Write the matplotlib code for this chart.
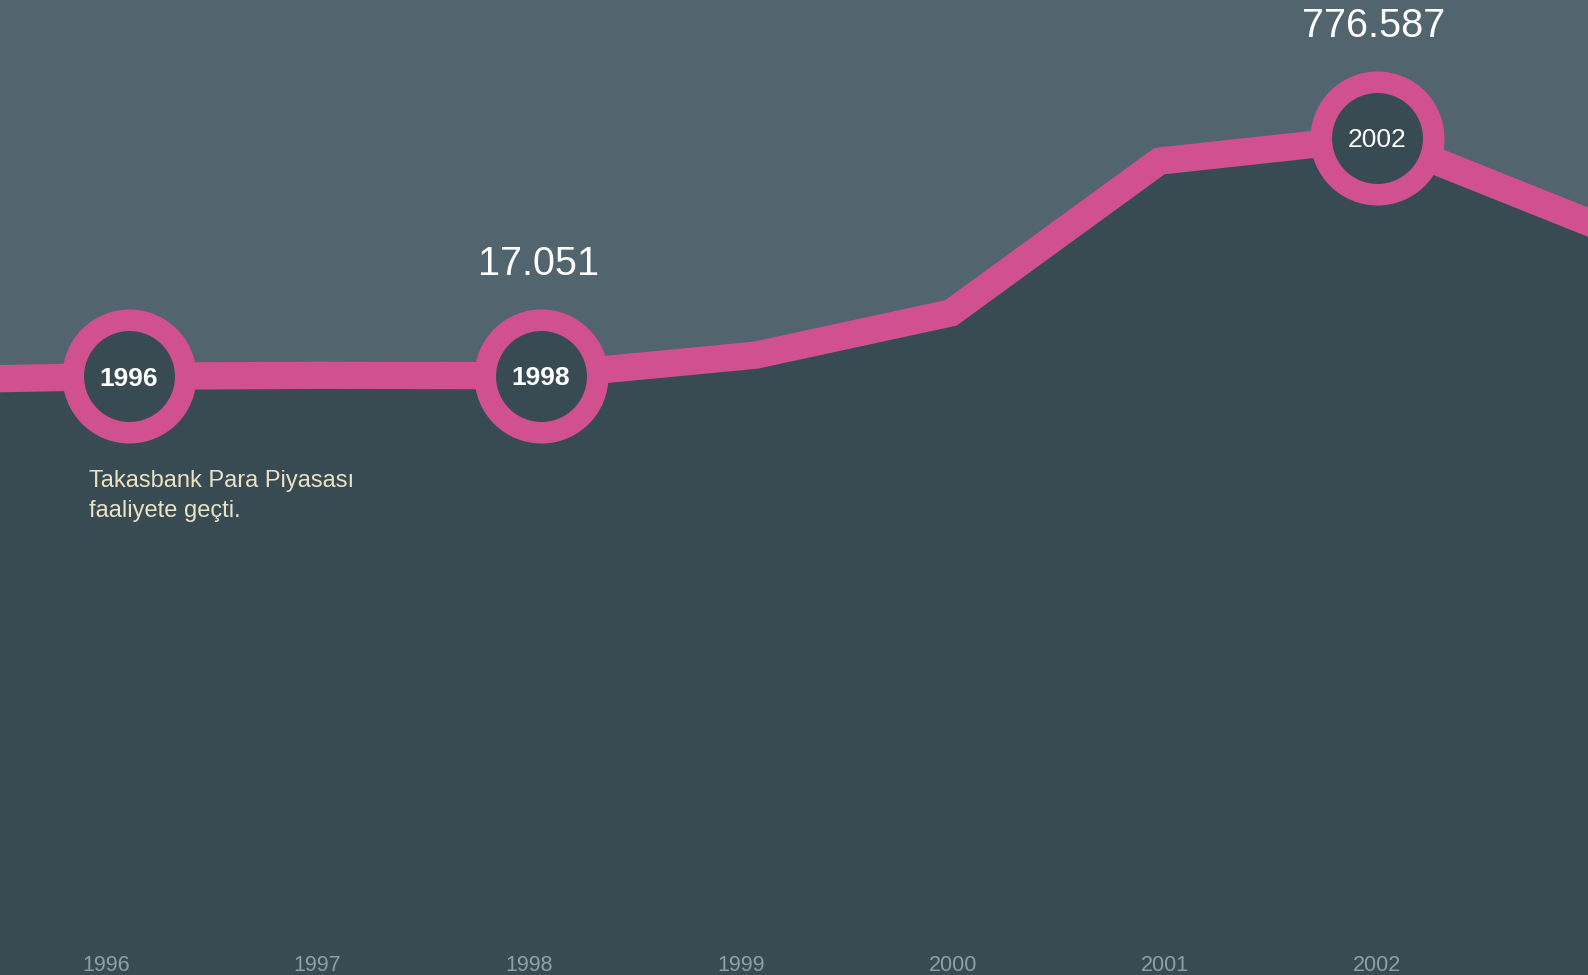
import matplotlib
matplotlib.use("Agg")
import matplotlib.pyplot as plt

# ---- data ----
# decimal-year positions of the data points
dates = [1995.0, 1996.11, 1997.0, 1998.055, 1999.07, 1999.99, 2000.975, 2002.0, 2003.0]
volume = [1.1, 15.4, 18.3, 17.051, 82.7, 217.3, 701.4, 776.587, 506.3]
tick_years = [1996, 1997, 1998, 1999, 2000, 2001, 2002]
tick_labels = ["1996", "1997", "1998", "1999", "2000", "2001", "2002"]
marked_idx = [1, 3, 7]
marked_labels = ["1996", "1998", "2002"]
value_labels = {3: "17.051", 7: "776.587"}
note_lines = ["Takasbank Para Piyasası", "faaliyete geçti."]

# ---- style ----
BG = "#52656f"
DARK = "#384b53"
PINK = "#d1508f"
TICK = "#8e9fa7"
CREAM = "#ebe2c6"

W, H, DPI = 1588, 975, 100
fig = plt.figure(figsize=(W / DPI, H / DPI), dpi=DPI)
fig.patch.set_facecolor(BG)
ax = fig.add_axes([0, 0, 1, 1])
ax.set_facecolor(BG)

ymin, ymax = -1894.0, 1215.1
ax.set_xlim(1995.501, 2002.998)
ax.set_ylim(ymin, ymax)
for s in ax.spines.values():
    s.set_visible(False)
ax.set_yticks([])
ax.set_xticks(tick_years)
ax.set_xticklabels(tick_labels, family=["Liberation Sans", "DejaVu Sans"])
ax.tick_params(axis="x", direction="in", length=0, pad=-14.6,
               labelsize=15.5, labelcolor=TICK)

# area + line
ax.fill_between(dates, volume, ymin, color=DARK, lw=0, zorder=1)
ax.plot(dates, volume, color=PINK, lw=19.66, solid_joinstyle="miter",
        solid_capstyle="projecting", zorder=2)

# marker circles
mx = [dates[i] for i in marked_idx]
my = [volume[i] for i in marked_idx]
ax.plot(mx, my, ls="none", marker="o", markersize=81, markerfacecolor=DARK,
        markeredgecolor=PINK, markeredgewidth=15.5, zorder=3)

for x, v, lab in zip(mx, my, marked_labels):
    ax.text(x, v, lab, color="white", fontsize=19,
            fontweight="bold" if lab != "2002" else "normal",
            family=["Liberation Sans", "DejaVu Sans"],
            ha="center", va="center_baseline", zorder=4)

# big value labels
for i, lab in value_labels.items():
    ax.annotate(lab, xy=(dates[i], volume[i]), xytext=(-2, 83),
                textcoords="offset points", ha="center", va="center_baseline",
                color="white", fontsize=28.5,
                family=["Liberation Sans Narrow", "Liberation Sans", "DejaVu Sans"],
                zorder=4)

# note under 1996
for k, line in enumerate(note_lines):
    ax.annotate(line, xy=(dates[1], volume[1]), xytext=(-28.8, -79.7 - 21.6 * k),
                textcoords="offset points", ha="left", va="baseline",
                color=CREAM, fontsize=17,
                family=["Liberation Sans", "DejaVu Sans"], zorder=4)

fig.savefig("out.png", dpi=DPI, facecolor=BG)
